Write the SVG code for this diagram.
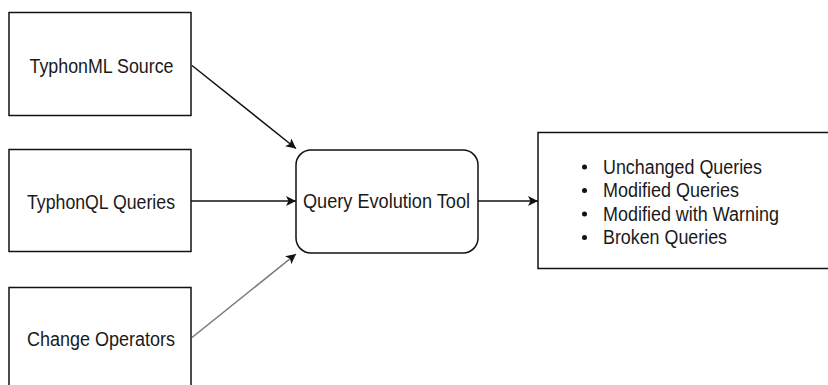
<svg xmlns="http://www.w3.org/2000/svg" width="828" height="385" viewBox="0 0 828 385">
  <defs>
    <marker id="arrow" viewBox="0 0 10 10" refX="10" refY="5" markerWidth="10" markerHeight="10" markerUnits="userSpaceOnUse" orient="auto">
      <path d="M0,0 L10,5 L0,10 L2.5,5 Z" fill="#111"/>
    </marker>
  </defs>
  <style>
    .box { fill: #fff; stroke: #111; stroke-width: 1.5; }
    .lbl { font-family: "Liberation Sans", Arial, sans-serif; font-size: 19.5px; fill: #1a1a1a; text-anchor: middle; }
    .item { font-family: "Liberation Sans", Arial, sans-serif; font-size: 20px; fill: #1a1a1a; }
    .edge { fill: none; stroke: #111; stroke-width: 1.5; marker-end: url(#arrow); }
  </style>
  <rect width="828" height="385" fill="#fff"/>

  <g id="typhonml-source">
    <rect class="box" x="9" y="12.5" width="182" height="103"/>
    <text class="lbl" x="101.5" y="73" textLength="144" lengthAdjust="spacingAndGlyphs">TyphonML Source</text>
  </g>

  <g id="typhonql-queries">
    <rect class="box" x="9" y="149.5" width="182" height="102"/>
    <text class="lbl" x="101" y="208.5" textLength="148" lengthAdjust="spacingAndGlyphs">TyphonQL Queries</text>
  </g>

  <g id="change-operators">
    <rect class="box" x="9" y="287.5" width="182" height="110"/>
    <text class="lbl" x="101" y="346" textLength="148" lengthAdjust="spacingAndGlyphs">Change Operators</text>
  </g>

  <g id="query-evolution-tool">
    <rect class="box" x="296" y="150" width="182" height="103" rx="15" ry="15"/>
    <text class="lbl" x="386.5" y="208" textLength="167" lengthAdjust="spacingAndGlyphs">Query Evolution Tool</text>
  </g>

  <g id="results">
    <rect class="box" x="538" y="132.5" width="300" height="136"/>
    <g fill="#111">
      <circle cx="584.5" cy="167" r="2.5"/>
      <circle cx="584.5" cy="190.5" r="2.5"/>
      <circle cx="584.5" cy="214" r="2.5"/>
      <circle cx="584.5" cy="237.5" r="2.5"/>
    </g>
    <text class="item" x="603" y="173.5" textLength="159" lengthAdjust="spacingAndGlyphs">Unchanged Queries</text>
    <text class="item" x="603" y="197" textLength="136" lengthAdjust="spacingAndGlyphs">Modified Queries</text>
    <text class="item" x="603" y="220.5" textLength="176" lengthAdjust="spacingAndGlyphs">Modified with Warning</text>
    <text class="item" x="603" y="244" textLength="124" lengthAdjust="spacingAndGlyphs">Broken Queries</text>
  </g>

  <g id="connectors">
    <line class="edge" x1="192" y1="65.5" x2="296" y2="148.5"/>
    <line class="edge" x1="191" y1="201" x2="296" y2="201"/>
    <line class="edge" x1="192" y1="337.5" x2="296" y2="254" style="stroke:#777"/>
    <line class="edge" x1="478" y1="201" x2="538" y2="201"/>
  </g>
</svg>
